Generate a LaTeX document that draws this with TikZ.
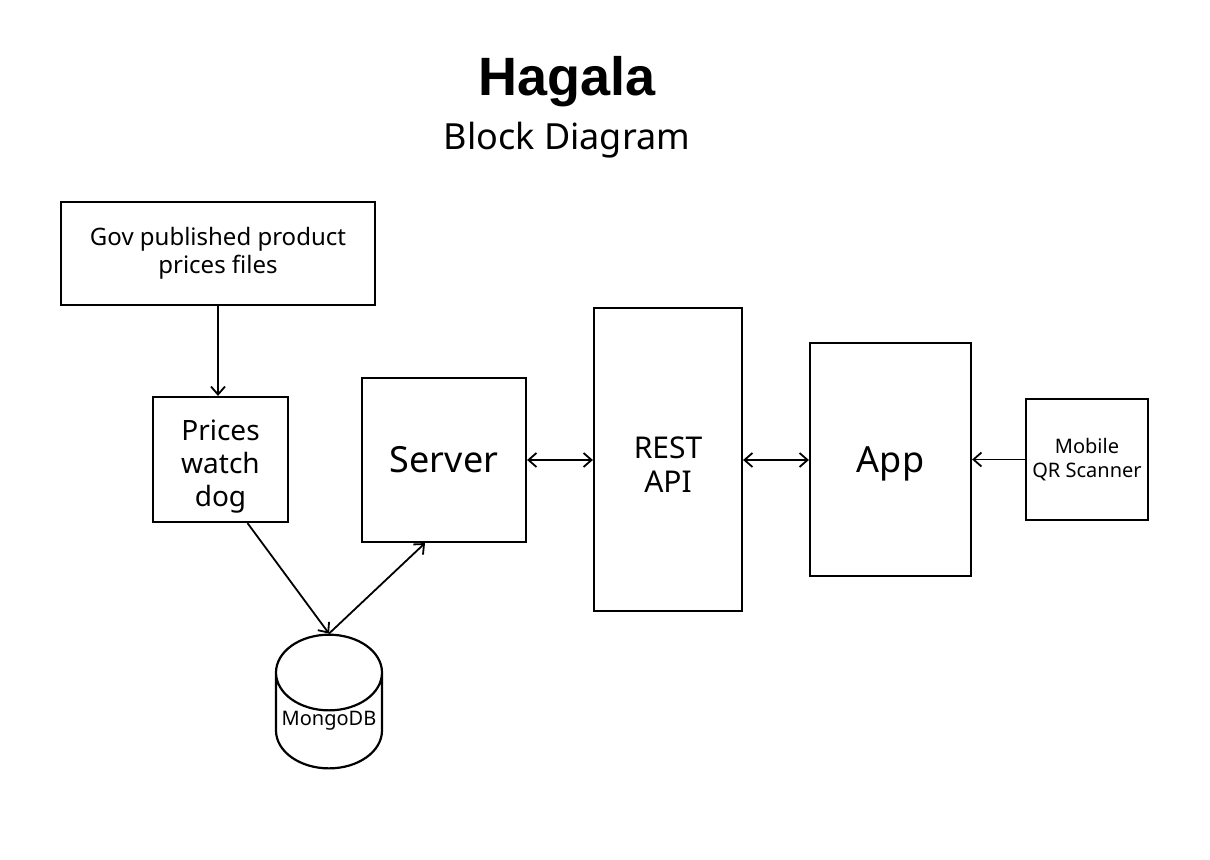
\documentclass[tikz,border=0pt]{standalone}
\usepackage{fontspec}
\setmainfont{Noto Sans}
\newfontfamily\titlefont{Liberation Sans}
\usetikzlibrary{arrows.meta, shapes.geometric, calc}
\tikzset{>={Straight Barb[length=4pt,width=7pt]}}
\tikzset{block/.style={draw, line width=1.1pt, align=center, inner sep=0pt},
    link/.style={line width=0.9pt}}
% extra room above a line, to push the text down a little
\newcommand{\lowered}[2]{\raisebox{0pt}[\dimexpr\height+#1]{#2}}

\begin{document}
\begin{tikzpicture}[x=0.5pt, y=-0.5pt]
    \useasboundingbox (0,0) rectangle (1210,860);
    \node [font=\titlefont\fontsize{27}{30}\selectfont\bfseries] (title) at (567,82) {Hagala};
    \node [font=\fontsize{18}{22}\selectfont] (subtitle) at (567,140) {Block Diagram};
    \node [block, minimum width=157pt, minimum height=51.5pt, font=\fontsize{12}{14}\selectfont] (gov) at (218,253.5) {Gov published product\\prices files};
    \node [block, minimum width=67.5pt, minimum height=62.5pt, font=\fontsize{14}{16.5}\selectfont] (dog) at (220.5,459.5) {\lowered{7.5pt}{Prices}\\watch\\dog};
    \node [block, minimum width=82pt, minimum height=82pt, font=\fontsize{18}{22}\selectfont] (server) at (444,460) {Server};
    \node [block, minimum width=74pt, minimum height=151.5pt, font=\fontsize{15}{17}\selectfont] (api) at (668,459.5) {\lowered{5pt}{REST}\\API};
    \node [block, minimum width=80.5pt, minimum height=116.5pt, font=\fontsize{18}{22}\selectfont] (app) at (890.5,459.5) {\lowered{4pt}{App}};
    \node [block, minimum width=61pt, minimum height=60.5pt, font=\fontsize{10}{12}\selectfont] (scanner) at (1087,459.5) {Mobile\\QR Scanner};
    \node [block, cylinder, shape border rotate=90, aspect=0.8, minimum width=53pt, minimum height=64pt, font=\fontsize{10}{12}\selectfont] (db) at (329,721) {MongoDB};
    \draw [->, link] (gov.south) -- (gov.south |- dog.north);
    \draw [->, link] ($(dog.south)+(27,0)$) -- (db.top);
    \draw [->, link] (db.top) -- ($(server.south)+(-19,0)$);
    \draw [<->, link] (server.east) -- (api.west |- server.east);
    \draw [<->, link] (api.east |- server.east) -- (app.west |- server.east);
    \draw [->, link] (scanner.west) -- (app.east |- scanner.west);
\end{tikzpicture}
\end{document}
